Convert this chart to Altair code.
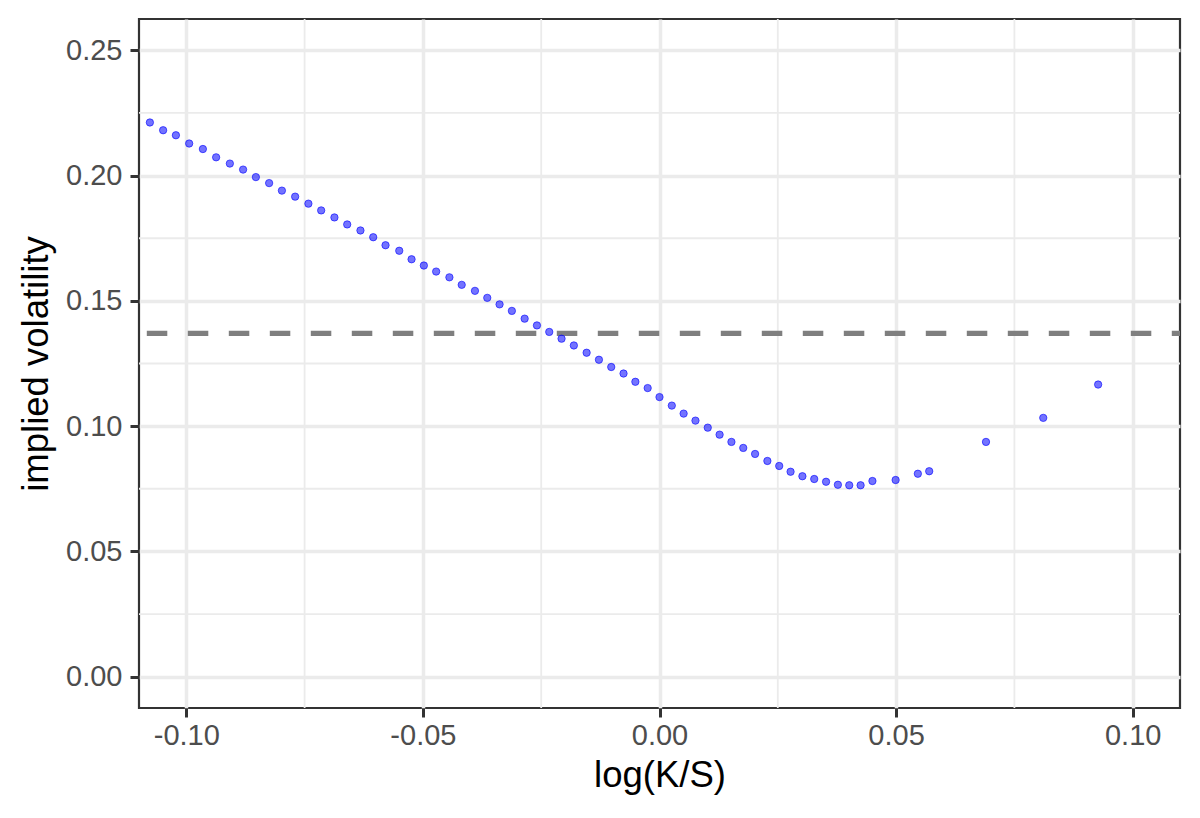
import altair as alt
import pandas as pd

log_ks = [-0.1077, -0.1049, -0.1022, -0.0994, -0.0965, -0.0937, -0.0908, -0.0880, -0.0853, -0.0825,
          -0.0798, -0.0770, -0.0742, -0.0715, -0.0687, -0.0660, -0.0632, -0.0605, -0.0579, -0.0550,
          -0.0524, -0.0498, -0.0472, -0.0444, -0.0418, -0.0390, -0.0364, -0.0338, -0.0312, -0.0285,
          -0.0259, -0.0233, -0.0207, -0.0181, -0.0154, -0.0128, -0.0102, -0.0076, -0.0051, -0.0025,
          0.0000, 0.0026, 0.0051, 0.0076, 0.0102, 0.0127, 0.0152, 0.0177, 0.0202, 0.0228,
          0.0253, 0.0277, 0.0302, 0.0327, 0.0352, 0.0377, 0.0401, 0.0425, 0.0450, 0.0499,
          0.0546, 0.0570, 0.0690, 0.0811, 0.0927]
implied_vol = [0.2212, 0.2181, 0.2161, 0.2128, 0.2106, 0.2073, 0.2048, 0.2024, 0.1994, 0.1970,
               0.1940, 0.1916, 0.1888, 0.1861, 0.1833, 0.1805, 0.1781, 0.1754, 0.1722, 0.1700,
               0.1666, 0.1641, 0.1617, 0.1594, 0.1564, 0.1540, 0.1512, 0.1486, 0.1460, 0.1429,
               0.1402, 0.1376, 0.1349, 0.1322, 0.1293, 0.1265, 0.1236, 0.1210, 0.1177, 0.1152,
               0.1116, 0.1082, 0.1050, 0.1022, 0.0994, 0.0966, 0.0937, 0.0913, 0.0889, 0.0861,
               0.0841, 0.0818, 0.0800, 0.0789, 0.0778, 0.0766, 0.0764, 0.0764, 0.0781, 0.0785,
               0.0810, 0.0820, 0.0937, 0.1033, 0.1166]
atm_vol = [0.1370]

x_major = [-0.10, -0.05, 0.00, 0.05, 0.10]
x_minor = [-0.075, -0.025, 0.025, 0.075]
y_major = [0.00, 0.05, 0.10, 0.15, 0.20, 0.25]
y_minor = [0.025, 0.075, 0.125, 0.175, 0.225]

assert len(log_ks) == len(implied_vol)

df = pd.DataFrame({"x": log_ks, "y": implied_vol})
xs = alt.Scale(domain=[-0.11, 0.11], nice=False, zero=False)
ys = alt.Scale(domain=[-0.0125, 0.2625], nice=False, zero=False)

lbl = "datum.value < 0 ? '-' + format(-datum.value, '.2f') : format(datum.value, '.2f')"
FONT = "Liberation Sans"

x_axis = alt.Axis(values=x_major, labelExpr=lbl, grid=True, gridColor="#EBEBEB",
                  gridWidth=3.5, domain=False, ticks=True, tickColor="#333333",
                  tickSize=9, tickWidth=3, labelFont=FONT, labelFontSize=29,
                  labelColor="#4D4D4D", labelPadding=4, titleFont=FONT,
                  titleFontSize=36.5, titleFontWeight="normal", titleColor="#000000",
                  titlePadding=7)
y_axis = alt.Axis(values=y_major, labelExpr=lbl, grid=True, gridColor="#EBEBEB",
                  gridWidth=3.5, domain=False, ticks=True, tickColor="#333333",
                  tickSize=9, tickWidth=3, labelFont=FONT, labelFontSize=29,
                  labelColor="#4D4D4D", labelPadding=8, titleFont=FONT,
                  titleFontSize=36.5, titleFontWeight="normal", titleColor="#000000",
                  titlePadding=10)

X_TITLE = "log(K/S)"
Y_TITLE = "implied volatility"

x_minor_rules = alt.Chart(pd.DataFrame({"x": x_minor})).mark_rule(
    color="#EBEBEB", strokeWidth=1.8
).encode(x=alt.X("x:Q", scale=xs, axis=x_axis, title=X_TITLE))

y_minor_rules = alt.Chart(pd.DataFrame({"y": y_minor})).mark_rule(
    color="#EBEBEB", strokeWidth=1.8
).encode(y=alt.Y("y:Q", scale=ys, axis=y_axis, title=Y_TITLE))

hline = alt.Chart(pd.DataFrame({"y": atm_vol})).mark_rule(
    color="#7F7F7F", strokeWidth=5.3, strokeDash=[20.5, 20.5], strokeDashOffset=12.3
).encode(y=alt.Y("y:Q", scale=ys, axis=y_axis, title=Y_TITLE))

points = alt.Chart(df).mark_point(
    filled=False, shape="circle", size=54, fill="#0000FF", fillOpacity=0.55,
    stroke="#0000FF", strokeOpacity=0.6, strokeWidth=1
).encode(
    x=alt.X("x:Q", scale=xs, title=X_TITLE, axis=x_axis),
    y=alt.Y("y:Q", scale=ys, title=Y_TITLE, axis=y_axis),
)

chart = alt.layer(x_minor_rules, y_minor_rules, hline, points).properties(
    width=1041, height=689,
    autosize=alt.AutoSizeParams(type="none"),
    padding={"left": 131, "top": 11, "right": 12, "bottom": 102},
    background="white",
).configure_view(stroke="#333333", strokeWidth=2.2)

chart.save("out.html", embed_options={"renderer": "svg", "actions": False})
